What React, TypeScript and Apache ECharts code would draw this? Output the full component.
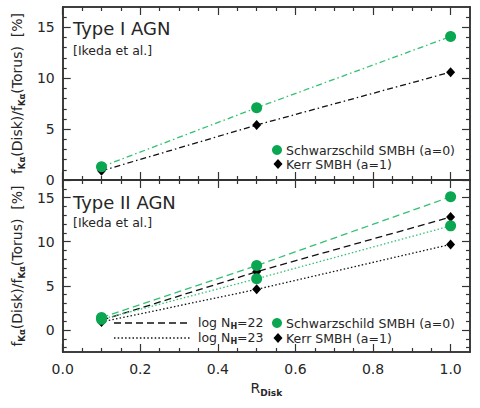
import React, { useEffect, useRef } from "react";
import * as echarts from "echarts";

// ---- data ----
const rDisk = [0.1, 0.5, 1.0];
const type1Schwarzschild = [1.3, 7.1, 14.1];
const type1Kerr = [0.9, 5.4, 10.6];
const type2Schw22 = [1.4, 7.3, 15.1];
const type2Kerr22 = [1.1, 6.6, 12.8];
const type2Schw23 = [1.2, 5.8, 11.8];
const type2Kerr23 = [0.9, 4.6, 9.7];

const xMajorTicks = [0, 0.2, 0.4, 0.6, 0.8, 1.0];
const xMinorTicks = [0.05, 0.1, 0.15, 0.25, 0.3, 0.35, 0.45, 0.5, 0.55, 0.65, 0.7, 0.75, 0.85, 0.9, 0.95];
const yMajorTicks = [0, 5, 10, 15];
const yMinorTop = [1, 2, 3, 4, 6, 7, 8, 9, 11, 12, 13, 14, 16];
const yMinorBottom = [-2, -1, 1, 2, 3, 4, 6, 7, 8, 9, 11, 12, 13, 14, 16];

const GREEN = "#0aa651";
const GREEN_LINE = "#33c172";
const AXIS = "#333333";
const TEXT = "#262626";
const FONT = "DejaVu Sans";

const DASHDOT = [6, 3, 1.5, 3];
const DASHED = [7, 4];
const DOTTED = [1.5, 2.2];

function mkX(grid: number, pos: "top" | "bottom", ticks: number[], len: number, labels: boolean, name?: string) {
  return {
    type: "value",
    gridIndex: grid,
    position: pos,
    min: 0,
    max: 1.05,
    axisLine: { show: true, onZero: false, lineStyle: { color: AXIS, width: 1.5 } },
    axisTick: { show: true, inside: true, length: len, customValues: ticks, lineStyle: { color: AXIS, width: 1.2 } },
    axisLabel: labels
      ? { show: true, customValues: xMajorTicks, formatter: (v: number) => v.toFixed(1), fontFamily: FONT, fontSize: 14, color: TEXT, margin: 10 }
      : { show: false },
    splitLine: { show: false },
    name: name || "",
    nameLocation: "middle",
    nameGap: 27,
    nameTextStyle: {
      fontFamily: FONT,
      fontSize: 14,
      color: TEXT,
      lineHeight: 18,
      rich: { s: { fontFamily: FONT, fontSize: 9, fontWeight: "bold", color: TEXT, verticalAlign: "bottom", lineHeight: 18 } },
    },
  };
}

function mkY(grid: number, pos: "left" | "right", min: number, ticks: number[], len: number, labels: boolean, name?: string) {
  return {
    type: "value",
    gridIndex: grid,
    position: pos,
    min,
    max: 17,
    axisLine: { show: true, onZero: false, lineStyle: { color: AXIS, width: 1.5 } },
    axisTick: { show: true, inside: true, length: len, customValues: ticks, lineStyle: { color: AXIS, width: 1.2 } },
    axisLabel: labels
      ? { show: true, customValues: yMajorTicks, fontFamily: FONT, fontSize: 14, color: TEXT, margin: 8 }
      : { show: false },
    splitLine: { show: false },
    name: name || "",
    nameLocation: "middle",
    nameRotate: 90,
    nameGap: 26,
    nameTextStyle: {
      fontFamily: FONT,
      fontSize: 14,
      color: TEXT,
      lineHeight: 18,
      rich: { s: { fontFamily: FONT, fontSize: 8.5, fontWeight: "bold", color: TEXT, verticalAlign: "bottom", lineHeight: 18 } },
    },
  };
}

function series(xIdx: number, yIdx: number, vals: number[], kind: "schw" | "kerr", dash: number[]) {
  const schw = kind === "schw";
  return {
    type: "line",
    xAxisIndex: xIdx,
    yAxisIndex: yIdx,
    data: rDisk.map((x, i) => [x, vals[i]]),
    symbol: schw ? "circle" : "diamond",
    symbolSize: schw ? 11 : [9, 10],
    itemStyle: { color: schw ? GREEN : "#000" },
    lineStyle: { color: schw ? GREEN_LINE : "#111", width: 1.3, type: dash },
    z: schw ? 3 : 2,
  };
}

const yName = "f{s|Kα}(Disk)/f{s|Kα}(Torus)  [%]";

function diamond(cx: number, cy: number) {
  return {
    type: "polygon",
    shape: { points: [[cx, cy - 5], [cx + 4.5, cy], [cx, cy + 5], [cx - 4.5, cy]] },
    style: { fill: "#000" },
  };
}

function txt(x: number, y: number, text: string, size: number) {
  return {
    type: "text",
    x,
    y,
    style: {
      text,
      fontFamily: FONT,
      fontSize: size,
      fill: TEXT,
      verticalAlign: "middle",
      align: "left",
      rich: { s: { fontFamily: FONT, fontSize: 8, fontWeight: "bold", fill: TEXT, verticalAlign: "bottom", lineHeight: 16 } },
      lineHeight: 16,
    },
  };
}

export default function App() {
  const ref = useRef<HTMLDivElement>(null);
  useEffect(() => {
    if (!ref.current) return;
    const chart = echarts.init(ref.current, undefined, { renderer: "svg" });
    const option = {
      animation: false,
      backgroundColor: "#fff",
      grid: [
        { left: 53, right: 10, top: 7, height: 173 },
        { left: 53, right: 10, top: 180, height: 172 },
      ],
      xAxis: [
        mkX(0, "bottom", xMajorTicks, 8, false), // 0
        mkX(0, "bottom", xMinorTicks, 4, false), // 1
        mkX(0, "top", xMajorTicks, 8, false), // 2
        mkX(0, "top", xMinorTicks, 4, false), // 3
        mkX(1, "bottom", xMajorTicks, 8, true, "R{s|Disk}"), // 4
        mkX(1, "bottom", xMinorTicks, 4, false), // 5
        mkX(1, "top", xMajorTicks, 8, false), // 6
        mkX(1, "top", xMinorTicks, 4, false), // 7
      ],
      yAxis: [
        mkY(0, "left", 0, yMajorTicks, 8, true, yName), // 0
        mkY(0, "left", 0, yMinorTop, 4, false), // 1
        mkY(0, "right", 0, yMajorTicks, 8, false), // 2
        mkY(0, "right", 0, yMinorTop, 4, false), // 3
        mkY(1, "left", -2.5, yMajorTicks, 8, true, yName), // 4
        mkY(1, "left", -2.5, yMinorBottom, 4, false), // 5
        mkY(1, "right", -2.5, yMajorTicks, 8, false), // 6
        mkY(1, "right", -2.5, yMinorBottom, 4, false), // 7
      ],
      series: [
        series(0, 0, type1Kerr, "kerr", DASHDOT),
        series(0, 0, type1Schwarzschild, "schw", DASHDOT),
        series(4, 4, type2Kerr22, "kerr", DASHED),
        series(4, 4, type2Kerr23, "kerr", DOTTED),
        series(4, 4, type2Schw22, "schw", DASHED),
        series(4, 4, type2Schw23, "schw", DOTTED),
      ],
      graphic: [
        txt(73, 28, "Type I AGN", 18),
        txt(73, 50, "[Ikeda et al.]", 12.5),
        txt(73, 202, "Type II AGN", 18),
        txt(73, 222, "[Ikeda et al.]", 12.5),
        { type: "circle", shape: { cx: 277, cy: 150, r: 5 }, style: { fill: GREEN } },
        txt(286, 150, "Schwarzschild SMBH (a=0)", 12.5),
        diamond(278, 164),
        txt(286, 164, "Kerr SMBH (a=1)", 12.5),
        { type: "line", shape: { x1: 114, y1: 323, x2: 187, y2: 323 }, style: { stroke: "#111", lineWidth: 1.3, lineDash: DASHED } },
        txt(198, 322, "log N{s|H}=22", 12.5),
        { type: "circle", shape: { cx: 277, cy: 323, r: 5 }, style: { fill: GREEN } },
        txt(286, 323, "Schwarzschild SMBH (a=0)", 12.5),
        { type: "line", shape: { x1: 114, y1: 338, x2: 190, y2: 338 }, style: { stroke: "#111", lineWidth: 1.3, lineDash: DOTTED } },
        txt(198, 337, "log N{s|H}=23", 12.5),
        diamond(278, 338),
        txt(286, 338, "Kerr SMBH (a=1)", 12.5),
      ],
    };
    chart.setOption(option as any);
    return () => chart.dispose();
  }, []);
  return <div ref={ref} style={{ position: "fixed", left: 0, top: 0, width: 480, height: 408 }} />;
}
